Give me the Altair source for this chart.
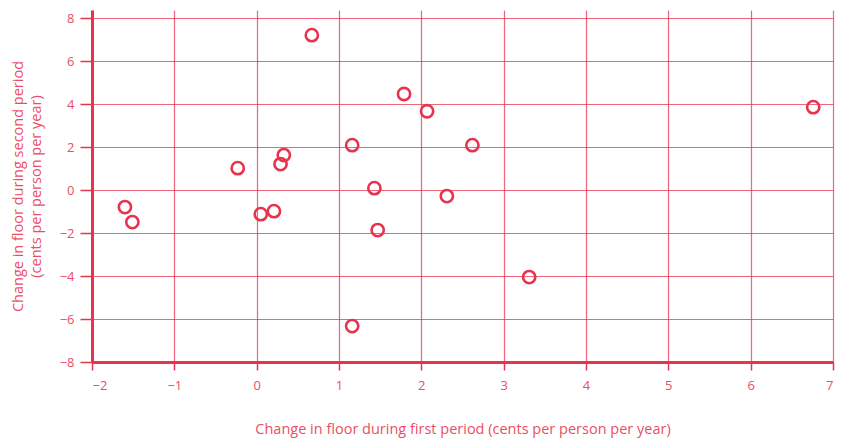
import altair as alt
import pandas as pd

first_period = [-1.60, -1.51, -0.23, 0.05, 0.21, 0.29, 0.33, 0.67, 1.16, 1.16,
                1.43, 1.47, 1.79, 2.07, 2.31, 2.62, 3.31, 6.76]
second_period = [-0.79, -1.49, 1.02, -1.12, -0.98, 1.21, 1.63, 7.21, 2.09, -6.33,
                 0.09, -1.86, 4.47, 3.67, -0.28, 2.09, -4.05, 3.86]
x_ticks = [-2, -1, 0, 1, 2, 3, 4, 5, 6, 7]
y_ticks = [-8, -6, -4, -2, 0, 2, 4, 6, 8]

df = pd.DataFrame({"x": first_period, "y": second_period})

RED = "#e8334f"
TXT = "#ec4d66"
FONT = "Open Sans"

chart = alt.Chart(df).mark_point(
    shape="circle", filled=False, size=150, strokeWidth=2.6, color=RED, opacity=1
).encode(
    x=alt.X("x:Q",
            scale=alt.Scale(domain=[-2, 7.0], nice=False, zero=False),
            axis=alt.Axis(values=x_ticks, title="Change in floor during first period (cents per person per year)",
                          titlePadding=30, labelPadding=9, tickSize=8)),
    y=alt.Y("y:Q",
            scale=alt.Scale(domain=[-8, 8.38], nice=False, zero=False),
            axis=alt.Axis(values=y_ticks, title=["Change in floor during second period", "(cents per person per year)"],
                          titlePadding=16, labelPadding=6, tickSize=12)),
).properties(
    width=741, height=352,
    autosize=alt.AutoSizeParams(type="none"),
    padding={"left": 84, "top": 2, "right": 4, "bottom": 77},
).configure_view(
    stroke=None
).configure_axis(
    gridColor=RED, gridOpacity=0.75, gridWidth=1.2,
    domainColor=RED, domainWidth=3,
    tickColor=RED, tickWidth=1.5,
    labelColor=TXT, titleColor=TXT,
    labelFont=FONT, titleFont=FONT,
    labelFontSize=13, titleFontSize=14.5, titleFontWeight="normal",
).configure_axisY(
    titleLineHeight=18,
)

chart.save("out.html", embed_options={"renderer": "svg", "actions": False})
